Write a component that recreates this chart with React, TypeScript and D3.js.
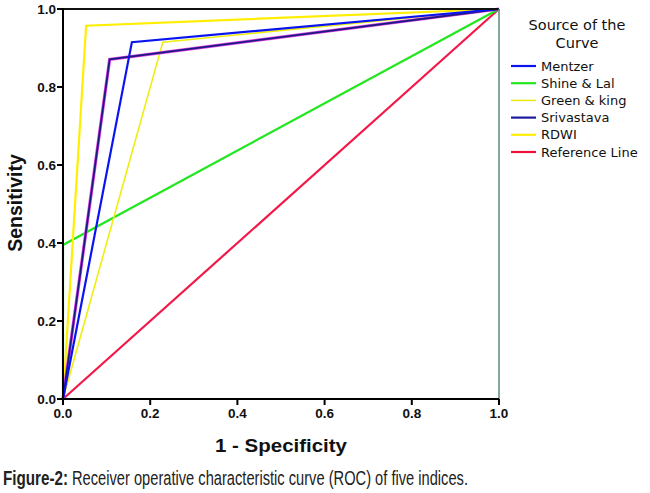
import { useLayoutEffect, useRef, useState } from "react";
import * as d3 from "d3";

// ROC points (1 - specificity, sensitivity)
const mentzer: [number, number][] = [[0, 0], [0.158, 0.915], [1, 1]];
const shineLal: [number, number][] = [[0, 0], [0, 0.395], [1, 1]];
const greenKing: [number, number][] = [[0, 0], [0.229, 0.915], [1, 1]];
const srivastava: [number, number][] = [[0, 0], [0.107, 0.871], [1, 1]];
const rdwi: [number, number][] = [[0, 0], [0.053, 0.957], [1, 1]];
const reference: [number, number][] = [[0, 0], [1, 1]];

const legendNames = ["Mentzer", "Shine & Lal", "Green & king", "Srivastava", "RDWI", "Reference Line"];
const legendColors = ["#0a14f0", "#22e61e", "#e8e800", "#1a1a9a", "#ffee00", "#f01040"];
const xTicks = [0, 0.2, 0.4, 0.6, 0.8, 1.0];
const yTicks = [0, 0.2, 0.4, 0.6, 0.8, 1.0];

const W = 650;
const H = 493;
const left = 63;
const right = 499;
const top = 9;
const bottom = 399;

export default function App() {
  const x = d3.scaleLinear().domain([0, 1]).range([left, right]);
  const y = d3.scaleLinear().domain([0, 1]).range([bottom, top]);
  const line = d3
    .line<[number, number]>()
    .x((d) => x(d[0]))
    .y((d) => y(d[1]));

  // caption uses a condensed look: squeeze the text horizontally to fit
  const boldRef = useRef<SVGTextElement>(null);
  const restRef = useRef<SVGTextElement>(null);
  const [squeeze, setSqueeze] = useState({ bold: 0.8, rest: 0.7 });
  useLayoutEffect(() => {
    const b = boldRef.current?.getComputedTextLength() ?? 0;
    const r = restRef.current?.getComputedTextLength() ?? 0;
    if (b > 0 && r > 0) setSqueeze({ bold: 65 / b, rest: 396 / r });
  }, []);

  const font = "'Liberation Sans', Arial, sans-serif";
  const legendFont = "'DejaVu Sans', Verdana, sans-serif";

  return (
    <svg
      width={W}
      height={H}
      style={{ position: "absolute", left: 0, top: 0, background: "#fff" }}
      fontFamily={font}
    >
      {/* curves */}
      <g fill="none" strokeLinejoin="miter">
        <path d={line(reference)!} stroke="#f21848" strokeWidth={2.2} />
        <path d={line(shineLal)!} stroke="#22e61e" strokeWidth={2.2} />
        <path d={line(greenKing)!} stroke="#eeee10" strokeWidth={1.6} />
        <path d={line(rdwi)!} stroke="#ffee00" strokeWidth={2.2} />
        <path d={line(srivastava)!} stroke="#e040e8" strokeWidth={3.2} />
        <path d={line(srivastava)!} stroke="#1a1a80" strokeWidth={1.8} />
        <path d={line(mentzer)!} stroke="#0a14f0" strokeWidth={2.2} />
      </g>

      {/* frame */}
      <line x1={left} x2={right} y1={top} y2={top} stroke="#111" strokeWidth={2} />
      <line x1={right} x2={right} y1={top} y2={bottom} stroke="#5a8a80" strokeWidth={1.5} />
      <line x1={left} x2={left} y1={top - 1} y2={bottom + 1} stroke="#000" strokeWidth={2} />
      <line x1={left - 1} x2={right} y1={bottom} y2={bottom} stroke="#000" strokeWidth={2} />

      {/* y axis */}
      <g fontSize={13.5} fontWeight="bold" fill="#111">
        {yTicks.map((t) => (
          <g key={`y${t}`}>
            <line x1={left - 6} x2={left} y1={y(t)} y2={y(t)} stroke="#000" strokeWidth={2} />
            <text x={left - 7} y={y(t)} dy="0.36em" textAnchor="end">
              {t.toFixed(1)}
            </text>
          </g>
        ))}
      </g>

      {/* x axis */}
      <g fontSize={13.5} fontWeight="bold" fill="#111">
        {xTicks.map((t) => (
          <g key={`x${t}`}>
            <line x1={x(t)} x2={x(t)} y1={bottom} y2={bottom + 6} stroke="#000" strokeWidth={2} />
            <text x={x(t)} y={bottom + 19} textAnchor="middle">
              {t.toFixed(1)}
            </text>
          </g>
        ))}
      </g>

      <text
        x={215}
        y={452}
        fontSize={19}
        fontWeight="bold"
        fill="#111"
        textLength={132}
        lengthAdjust="spacingAndGlyphs"
      >
        1 - Specificity
      </text>
      <text
        transform={`translate(22,203) rotate(-90)`}
        textAnchor="middle"
        fontSize={19.5}
        fontWeight="bold"
        fill="#111"
      >
        Sensitivity
      </text>

      {/* legend */}
      <g fill="#111" fontFamily={legendFont}>
        <text x={577} y={30} textAnchor="middle" fontSize={14.5}>
          Source of the
        </text>
        <text x={577} y={48} textAnchor="middle" fontSize={14.5}>
          Curve
        </text>
        {legendNames.map((name, i) => (
          <g key={name}>
            <line
              x1={511}
              x2={536}
              y1={66 + i * 17.2}
              y2={66 + i * 17.2}
              stroke={legendColors[i]}
              strokeWidth={name === "Green & king" ? 1.4 : 2.2}
            />
            <text x={541} y={66 + i * 17.2} dy="0.36em" fontSize={13}>
              {name}
            </text>
          </g>
        ))}
      </g>

      {/* caption */}
      <g fontSize={19.5} fill="#222">
        <text
          ref={boldRef}
          transform={`translate(3,485) scale(${squeeze.bold},1)`}
          fontWeight="bold"
        >
          Figure-2:
        </text>
        <text ref={restRef} transform={`translate(72,485) scale(${squeeze.rest},1)`}>
          Receiver operative characteristic curve (ROC) of five indices.
        </text>
      </g>
    </svg>
  );
}
